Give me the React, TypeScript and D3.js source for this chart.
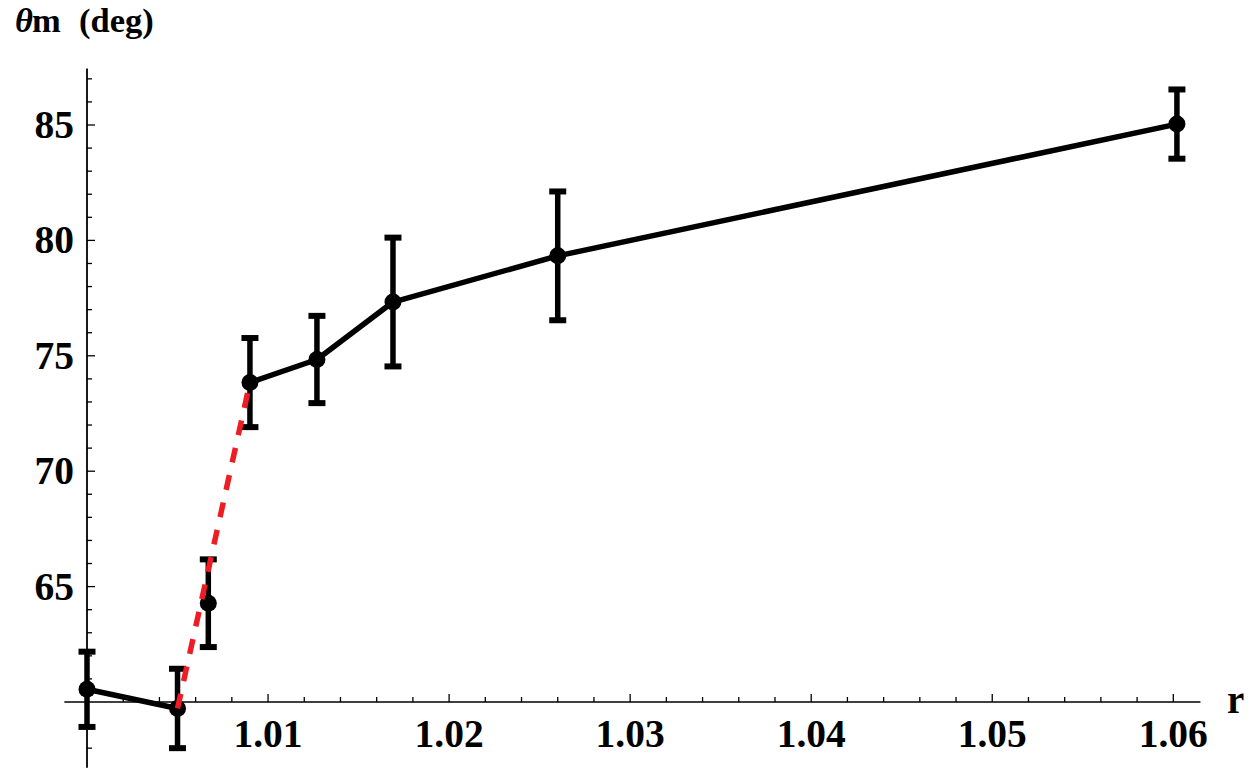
import React from "react";
import * as d3 from "d3";

// ---- data ----
const rValues: number[] = [1.0, 1.005, 1.0067, 1.009, 1.0127, 1.0169, 1.026, 1.0602];
const thetaValues: number[] = [60.55, 59.72, 64.28, 73.84, 74.84, 77.33, 79.33, 85.04];
const thetaErrors: number[] = [1.63, 1.72, 1.9, 1.93, 1.89, 2.79, 2.79, 1.5];
const solidSegments: number[][] = [[0, 1], [3, 4, 5, 6, 7]];
const dashedSegment: number[] = [1, 3];
const xMajorTicks: number[] = [1.01, 1.02, 1.03, 1.04, 1.05, 1.06];
const yMajorTicks: number[] = [65, 70, 75, 80, 85];
const xLabel = "r";
const yLabelTheta = "θ";
const yLabelRest = "m";
const yLabelUnit = "(deg)";

const W = 1252;
const H = 775;
const FONT = "'Liberation Serif', 'Times New Roman', serif";

export default function App() {
  const x = d3.scaleLinear().domain([1.0, 1.06]).range([87, 1173.3]);
  const y = d3.scaleLinear().domain([60, 85]).range([702, 125]);

  const xAxisY = y(60);
  const yAxisX = x(1.0);
  const xAxisStart = x(0.99875);
  const xAxisEnd = x(1.0615);
  const yAxisTop = y(87.45);
  const yAxisBottom = y(57.15);

  const xMinor = d3.range(1, 31).map((i) => 1 + i * 0.002);
  const yMinor = d3.range(58, 88).filter((v) => v !== 60);

  const line = d3
    .line<number>()
    .x((i) => x(rValues[i]))
    .y((i) => y(thetaValues[i]));

  const isMajorX = (v: number) => xMajorTicks.some((m) => Math.abs(m - v) < 1e-6);

  return (
    <svg
      width={W}
      height={H}
      style={{ position: "absolute", left: 0, top: 0, background: "#fff" }}
      fontFamily={FONT}
    >
      <rect x={0} y={0} width={W} height={H} fill="#fff" />

      {/* axes */}
      <line x1={xAxisStart} x2={xAxisEnd} y1={xAxisY} y2={xAxisY} stroke="#000" strokeWidth={1.6} />
      <line x1={yAxisX} x2={yAxisX} y1={yAxisBottom} y2={yAxisTop} stroke="#000" strokeWidth={1.8} />

      {/* x ticks (pointing up) */}
      {xMinor.map((v, i) => {
        const major = isMajorX(v);
        return (
          <line
            key={"xt" + i}
            x1={x(v)}
            x2={x(v)}
            y1={xAxisY}
            y2={xAxisY - (major ? 8 : 5)}
            stroke="#000"
            strokeWidth={1.3}
          />
        );
      })}
      {xMajorTicks.map((v) => (
        <text
          key={"xl" + v}
          x={x(v)}
          y={747}
          textAnchor="middle"
          fontSize={39.5}
          fontWeight="bold"
          fill="#000"
        >
          {v.toFixed(2)}
        </text>
      ))}

      {/* y ticks (pointing right) */}
      {yMinor.map((v) => {
        const major = v % 5 === 0;
        return (
          <line
            key={"yt" + v}
            x1={yAxisX}
            x2={yAxisX + (major ? 8 : 5)}
            y1={y(v)}
            y2={y(v)}
            stroke="#000"
            strokeWidth={1.3}
          />
        );
      })}
      {yMajorTicks.map((v) => (
        <text
          key={"yl" + v}
          x={74}
          y={y(v) + 13}
          textAnchor="end"
          fontSize={39.5}
          fontWeight="bold"
          fill="#000"
        >
          {v}
        </text>
      ))}

      {/* axis labels */}
      <text x={1227} y={713} fontSize={39} fontWeight="bold" fill="#000">
        {xLabel}
      </text>
      <text y={32} fontSize={34.5} fontWeight="bold" fill="#000">
        <tspan x={15} fontStyle="italic">{yLabelTheta}</tspan>
        <tspan x={32}>{yLabelRest}</tspan>
        <tspan x={79}>{yLabelUnit}</tspan>
      </text>

      {/* solid connecting lines */}
      {solidSegments.map((seg, i) => (
        <path
          key={"seg" + i}
          d={line(seg) || ""}
          fill="none"
          stroke="#000"
          strokeWidth={5.5}
          strokeLinejoin="round"
        />
      ))}

      {/* error bars */}
      {rValues.map((r, i) => {
        const cx = x(r);
        const top = y(thetaValues[i] + thetaErrors[i]);
        const bot = y(thetaValues[i] - thetaErrors[i]);
        return (
          <g key={"eb" + i}>
            <line x1={cx} x2={cx} y1={top} y2={bot} stroke="#000" strokeWidth={5.5} />
            <line x1={cx - 8.5} x2={cx + 8.5} y1={top} y2={top} stroke="#000" strokeWidth={6} />
            <line x1={cx - 8.5} x2={cx + 8.5} y1={bot} y2={bot} stroke="#000" strokeWidth={6} />
          </g>
        );
      })}

      {/* points */}
      {rValues.map((r, i) => (
        <circle key={"pt" + i} cx={x(r)} cy={y(thetaValues[i])} r={8.5} fill="#000" />
      ))}

      {/* red dashed fit */}
      <path
        d={line(dashedSegment) || ""}
        fill="none"
        stroke="#ee1c25"
        strokeWidth={5.5}
        strokeDasharray="15 13"
      />
    </svg>
  );
}
